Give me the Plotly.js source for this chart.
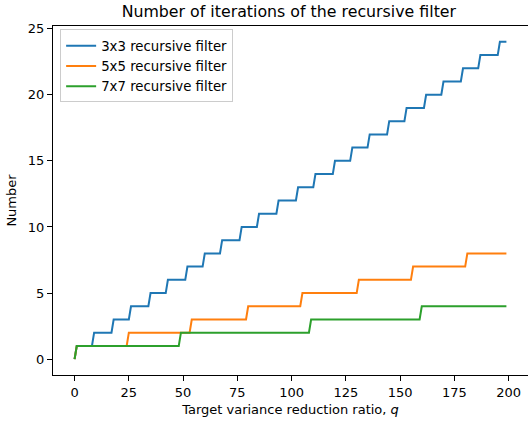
<!DOCTYPE html>
<html>
<head>
<meta charset="utf-8">
<script src="https://cdn.plot.ly/plotly-3.0.1.min.js"></script>
<style>
html,body{margin:0;padding:0;overflow:hidden;background:#fff;}
#chart{width:530px;height:421px;}
</style>
</head>
<body>
<div id="chart"></div>
<script>
// q at which each successive iteration count (1, 2, 3, ...) is first reached
const seriesNames = ["3x3 recursive filter", "5x5 recursive filter", "7x7 recursive filter"];
const blueStarts = [1, 9, 18, 26, 35, 43, 52, 60, 68, 77, 85, 94, 103, 111, 120, 128, 136, 145, 153, 162, 170, 179, 187, 196];
const orangeStarts = [1, 25, 54, 80, 105, 131, 156, 181];
const greenStarts = [1, 49, 109, 160];
const qMax = 199;
const xTicks = [0, 25, 50, 75, 100, 125, 150, 175, 200];
const yTicks = [0, 5, 10, 15, 20, 25];
const colors = ["#1f77b4", "#ff7f0e", "#2ca02c"];

function stepPoints(starts) {
  const x = [0], y = [0];
  starts.forEach((s, i) => {
    const prev = i;
    const lvl = i + 1;
    if (s - 1 > x[x.length - 1]) { x.push(s - 1); y.push(prev); }
    x.push(s); y.push(lvl);
  });
  x.push(qMax); y.push(starts.length);
  return {x, y};
}

const traces = [blueStarts, orangeStarts, greenStarts].map((st, i) => {
  const p = stepPoints(st);
  return {
    x: p.x, y: p.y, type: "scatter", mode: "lines", name: seriesNames[i],
    line: {color: colors[i], width: 2}
  };
});

const FF = "DejaVu Sans, sans-serif";
const layout = {
  width: 530, height: 421,
  margin: {l: 53, r: 2, t: 26, b: 46},
  paper_bgcolor: "#fff", plot_bgcolor: "#fff",
  font: {family: FF, size: 13, color: "#000"},
  title: {text: "Number of iterations of the recursive filter", font: {family: FF, size: 15.8, color: "#000"}, x: 0.545, xanchor: "center", y: 0.973, yanchor: "middle"},
  showlegend: true,
  legend: {x: 0.015, y: 0.99, xanchor: "left", yanchor: "top", bgcolor: "rgba(255,255,255,0.8)", bordercolor: "#cccccc", borderwidth: 1, font: {family: FF, size: 13.3, color: "#000"}, tracegroupgap: 0},
  xaxis: {
    range: [-9.95, 208.95], tickvals: xTicks, ticktext: xTicks.map(String),
    ticks: "outside", ticklen: 5, tickcolor: "#000", tickwidth: 1,
    showline: true, mirror: true, linecolor: "#000", linewidth: 1,
    showgrid: false, zeroline: false,
    tickfont: {family: FF, size: 13, color: "#000"},
    title: {text: "Target variance reduction ratio, <i>q</i>", font: {family: FF, size: 13, color: "#000"}, standoff: 6}
  },
  yaxis: {
    range: [-1.2, 25.2], tickvals: yTicks, ticktext: yTicks.map(String),
    ticks: "outside", ticklen: 5, tickcolor: "#000", tickwidth: 1,
    showline: true, mirror: true, linecolor: "#000", linewidth: 1,
    showgrid: false, zeroline: false,
    tickfont: {family: FF, size: 13, color: "#000"},
    title: {text: "Number", font: {family: FF, size: 13, color: "#000"}, standoff: 8}
  }
};

Plotly.newPlot("chart", traces, layout, {displayModeBar: false, staticPlot: true});
</script>
</body>
</html>
